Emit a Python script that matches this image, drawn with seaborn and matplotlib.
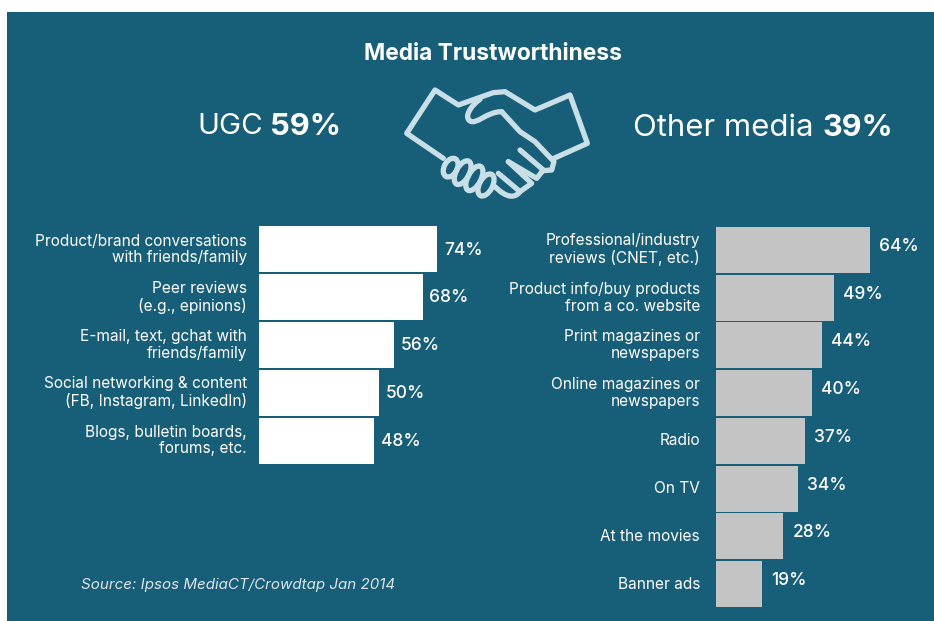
import matplotlib
matplotlib.use("Agg")
import matplotlib.pyplot as plt
import seaborn as sns
import pandas as pd
from matplotlib.patches import Rectangle, Ellipse
from matplotlib.path import Path
from matplotlib.patches import PathPatch

ugc_labels = ["Product/brand conversations\nwith friends/family", "Peer reviews\n(e.g., epinions)",
              "E-mail, text, gchat with\nfriends/family", "Social networking & content\n(FB, Instagram, LinkedIn)",
              "Blogs, bulletin boards,\nforums, etc."]
ugc_values = [74, 68, 56, 50, 48]
other_labels = ["Professional/industry\nreviews (CNET, etc.)", "Product info/buy products\nfrom a co. website",
                "Print magazines or\nnewspapers", "Online magazines or\nnewspapers", "Radio", "On TV",
                "At the movies", "Banner ads"]
other_values = [64, 49, 44, 40, 37, 34, 28, 19]

BG = "#175E78"
W, H = 934, 621
FONT = "Inter"
sns.set_theme(style="white")
plt.rcParams["font.family"] = [FONT, "DejaVu Sans"]

fig = plt.figure(figsize=(W / 100, H / 100), dpi=100, facecolor="white")

# full-figure overlay in pixel units
bg = fig.add_axes([0, 0, 1, 1], zorder=0)
bg.set_xlim(0, W); bg.set_ylim(H, 0); bg.axis("off")
bg.add_patch(Rectangle((7, 12), W - 7, H - 12, facecolor=BG, edgecolor="none"))


def pixel_axes(x0, y0, x1, y1):
    a = fig.add_axes([x0 / W, 1 - y1 / H, (x1 - x0) / W, (y1 - y0) / H], zorder=1)
    a.patch.set_alpha(0)
    return a


def bars(ax, labels, values, color, tick_pad, label_pad, label_dy):
    df = pd.DataFrame({"label": labels, "value": values})
    sns.barplot(data=df, y="label", x="value", ax=ax, color=color, width=0.96, saturation=1, linewidth=0)
    ax.set_xlim(0, 100)
    ax.set_xlabel(""); ax.set_ylabel("")
    ax.set_xticks([])
    ax.tick_params(axis="y", length=0, pad=tick_pad, labelcolor="white", labelsize=11.1)
    for lab in ax.get_yticklabels():
        lab.set_linespacing(1.15)
        lab.set_verticalalignment("center")
        lab.set_horizontalalignment("right")
        lab.set_multialignment("right")
    sns.despine(ax=ax, left=True, bottom=True)
    anns = ax.bar_label(ax.containers[0], labels=[f"{v}%" for v in values], padding=label_pad,
                        color="white", fontsize=12.5, fontweight="medium")
    for a in anns:
        a.xyann = (a.xyann[0], label_dy)


ax1 = pixel_axes(259, 225.5, 259 + 240.5, 464.5)
bars(ax1, ugc_labels, ugc_values, "white", 8.5, 5, -0.5)
ax2 = pixel_axes(716, 226, 716 + 218, 608)
bars(ax2, other_labels, other_values, "#C4C4C4", 11.5, 6.5, 2.5)
ax2.set_xlim(0, 218 / 2.405)

# texts
fg = fig.add_axes([0, 0, 1, 1], zorder=2)
fg.set_xlim(0, W); fg.set_ylim(H, 0); fg.axis("off")
fg.text(493.5, 54, "Media Trustworthiness", color="white", fontsize=16.4, fontweight="bold", ha="center", va="center")
fg.text(197.5, 127, "UGC", color="white", fontsize=21.3, ha="left", va="center")
fg.text(270, 127, "59%", color="white", fontsize=22.3, fontweight="bold", ha="left", va="center")
fg.text(633, 128, "Other media", color="white", fontsize=22.4, ha="left", va="center")
fg.text(822, 128, "39%", color="white", fontsize=22, fontweight="bold", ha="left", va="center")
fg.text(81, 585, "Source: Ipsos MediaCT/Crowdtap Jan 2014", color="#DDE6EA", fontsize=10.9,
        fontstyle="italic", ha="left", va="center")

# handshake icon, traced in crop coordinates of the reference
ICON = "#C9DFE8"
LW = 3.8


def P(x, y):
    return (380 + x / 3, 70 + y / 3)


def stroke(pts):
    xy = [P(*p) for p in pts]
    codes = [Path.MOVETO] + [Path.LINETO] * (len(xy) - 1)
    fg.add_patch(PathPatch(Path(xy, codes), fill=False, edgecolor=ICON, lw=LW, capstyle="round", joinstyle="round"))


def curve(pts):
    # pts: start, then triples of cubic Bezier points
    xy = [P(*p) for p in pts]
    codes = [Path.MOVETO] + [Path.CURVE4] * (len(xy) - 1)
    fg.add_patch(PathPatch(Path(xy, codes), fill=False, edgecolor=ICON, lw=LW, capstyle="round", joinstyle="round"))


stroke([(190, 265), (80, 190), (165, 60), (235, 105), (300, 82), (340, 68), (375, 65), (465, 120), (570, 75), (622, 220), (522, 265)])
curve([(300, 88), (275, 105), (250, 140), (270, 153), (290, 165), (320, 125), (365, 125)])
stroke([(365, 125), (420, 185), (465, 215), (522, 275), (515, 300), (490, 302)])
stroke([(420, 240), (490, 300), (470, 325), (385, 275)])
stroke([(385, 275), (455, 340), (420, 365), (355, 310)])
curve([(420, 365), (405, 385), (380, 385), (345, 350)])
for cx, cy, hgt in [(212, 293, 20), (248, 308, 26), (283, 325, 27), (318, 345, 24)]:
    fg.add_patch(Ellipse(P(cx, cy), 13, hgt, angle=28, fill=False, edgecolor=ICON, lw=LW))

fig.savefig("out.png", dpi=100, facecolor="white")
